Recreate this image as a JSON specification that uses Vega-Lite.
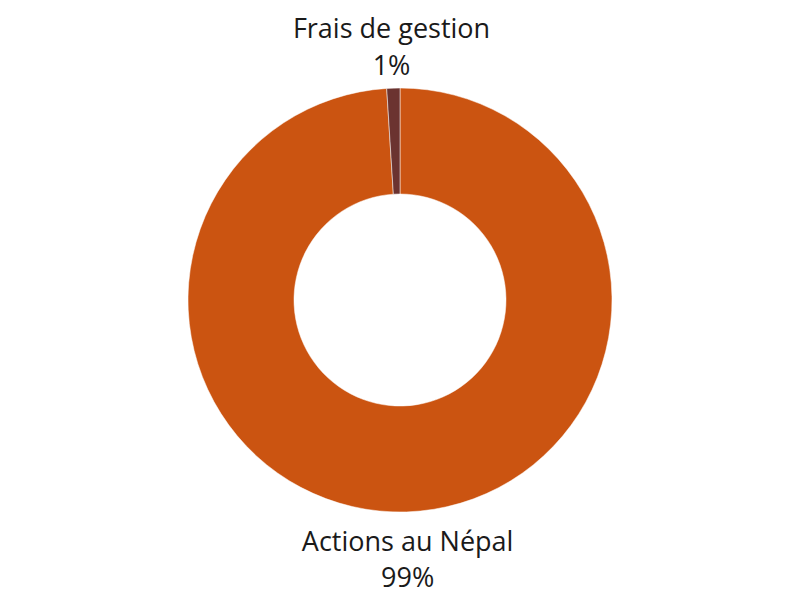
{
  "$schema": "https://vega.github.io/schema/vega-lite/v6.json",
  "autosize": {"type": "fit", "contains": "padding"},
  "width": 800,
  "height": 600,
  "padding": 0,
  "background": "white",
  "config": {"view": {"stroke": null}},
  "data": {
    "values": [
      {"category": "Actions au Népal", "value": 99},
      {"category": "Frais de gestion", "value": 1}
    ]
  },
  "transform": [
    {"calculate": "datum.category + '\\n' + datum.value + '%'", "as": "label"}
  ],
  "encoding": {
    "theta": {"field": "value", "type": "quantitative", "stack": true},
    "color": {
      "field": "category",
      "type": "nominal",
      "scale": {"domain": ["Actions au Népal", "Frais de gestion"], "range": ["#cb5411", "#6b3330"]},
      "legend": null
    }
  },
  "layer": [
    {
      "mark": {"type": "arc", "outerRadius": 212, "innerRadius": 106, "stroke": "white", "strokeWidth": 0.5}
    },
    {
      "mark": {"type": "text", "radius": 270, "fontSize": 27, "font": "Open Sans", "lineBreak": "\n", "lineHeight": 37, "baseline": "middle", "align": "center"},
      "encoding": {
        "text": {"condition": {"test": "datum.category === 'Frais de gestion'", "field": "label"}, "value": ""},
        "color": {"field": "category", "type": "nominal", "legend": null, "scale": null},
        "fill": {"value": "#1a1a1a"}
      }
    },
    {
      "mark": {"type": "text", "radius": 243, "fontSize": 27, "font": "Open Sans", "lineBreak": "\n", "lineHeight": 36, "baseline": "middle", "align": "center"},
      "encoding": {
        "text": {"condition": {"test": "datum.category === 'Actions au Népal'", "field": "label"}, "value": ""},
        "color": {"field": "category", "type": "nominal", "legend": null, "scale": null},
        "fill": {"value": "#1a1a1a"}
      }
    }
  ]
}
